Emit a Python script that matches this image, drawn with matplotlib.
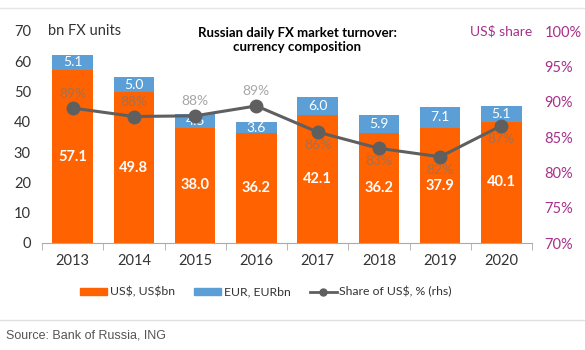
import matplotlib.pyplot as plt
import numpy as np
from matplotlib.lines import Line2D
from matplotlib.patches import Patch

years = ["2013", "2014", "2015", "2016", "2017", "2018", "2019", "2020"]
usd = [57.1, 49.8, 38.0, 36.2, 42.1, 36.2, 37.9, 40.1]
eur = [5.1, 5.0, 4.5, 3.6, 6.0, 5.9, 7.1, 5.1]
share = [89.1, 87.9, 88.0, 89.4, 85.7, 83.4, 82.2, 86.6]
share_labels = ["89%", "88%", "88%", "89%", "86%", "83%", "82%", "87%"]
label_above = [True, True, True, True, False, False, False, False]

orange = "#FF6200"
blue = "#5B9FD6"
grey = "#5F5F5F"
pink = "#A8308A"

plt.rcParams["font.family"] = ["Lato", "DejaVu Sans"]

fig = plt.figure(figsize=(5.85, 3.5), dpi=100)
ax = fig.add_axes([42 / 585, 1 - 243 / 350, 490 / 585, 212 / 350])
x = np.arange(len(years))
w = 0.66

ax.bar(x, usd, w, color=orange, zorder=2)
ax.bar(x, eur, w, bottom=usd, color=blue, zorder=2)
for i in x:
    ax.text(i, usd[i] / 2, f"{usd[i]:.1f}", ha="center", va="center",
            color="white", fontsize=10.5, fontweight="bold", zorder=5)
    ax.text(i, usd[i] + eur[i] / 2, f"{eur[i]:.1f}", ha="center", va="center",
            color="white", fontsize=10, zorder=5)

ax.set_xlim(-0.5, 7.5)
ax.set_ylim(0, 70)
ax.set_yticks(range(0, 71, 10))
ax.set_xticks(x)
ax.set_xticklabels(years)
ax.set_xticks(np.arange(-0.5, 8, 1), minor=True)
ax.tick_params(axis="x", which="major", length=0, pad=8, labelsize=10.5, colors="#333333")
ax.tick_params(axis="x", which="minor", length=5, color="#aaaaaa")
ax.tick_params(axis="y", length=0, pad=8, labelsize=10.5, colors="#333333")
for s in ["top", "right", "left"]:
    ax.spines[s].set_visible(False)
ax.spines["bottom"].set_color("#aaaaaa")

ax2 = ax.twinx()
ax2.plot(x, share, color=grey, linewidth=2.2, marker="o", markersize=9, zorder=4)
for i in x:
    if label_above[i]:
        ax2.text(i, share[i] + 1.2, share_labels[i], ha="center", va="bottom",
                 color="#777777", alpha=0.65, fontsize=10, zorder=6)
    else:
        ax2.text(i, share[i] - 1.0, share_labels[i], ha="center", va="top",
                 color="#777777", alpha=0.65, fontsize=10, zorder=6)
ax2.set_ylim(70, 100)
ax2.set_yticks(range(70, 101, 5))
ax2.set_yticklabels([f"{v}%" for v in range(70, 101, 5)])
ax2.tick_params(axis="y", length=0, pad=9, labelsize=10.5, colors=pink)
for s in ["top", "right", "left", "bottom"]:
    ax2.spines[s].set_visible(False)

fig.text(48 / 585, 1 - 31 / 350, "bn FX units", fontsize=10.5, color="#333333", va="center")
fig.text(470 / 585, 1 - 31 / 350, "US\\$ share", fontsize=10, color=pink, va="center")
fig.text(297 / 585, 1 - 40 / 350, "Russian daily FX market turnover:\ncurrency composition",
         ha="center", va="center", fontsize=9.5, fontweight="bold", color="black", linespacing=1.25)

handles = [Patch(color=orange), Patch(color=blue),
           Line2D([0], [0], color=grey, linewidth=2, marker="o", markersize=5)]
fig.legend(handles, ["US\\$, US\\$bn", "EUR, EURbn", "Share of US\\$, % (rhs)"],
           loc="center", bbox_to_anchor=(266 / 585, 1 - 292 / 350), ncol=3, frameon=False,
           fontsize=8.8, handlelength=2.2, handleheight=0.5, columnspacing=1.6,
           handletextpad=0.2, labelcolor="#333333")

fig.add_artist(Line2D([0, 1], [1 - 8 / 350, 1 - 8 / 350], color="#e5e5e5", linewidth=1))
fig.add_artist(Line2D([0, 1], [1 - 320 / 350, 1 - 320 / 350], color="#e0e0e0", linewidth=1))
fig.text(6 / 585, 1 - 336 / 350, "Source: Bank of Russia, ING", fontsize=9,
         color="#555555", family=["Liberation Sans", "DejaVu Sans"], va="center")

fig.savefig("out.png", dpi=100)
